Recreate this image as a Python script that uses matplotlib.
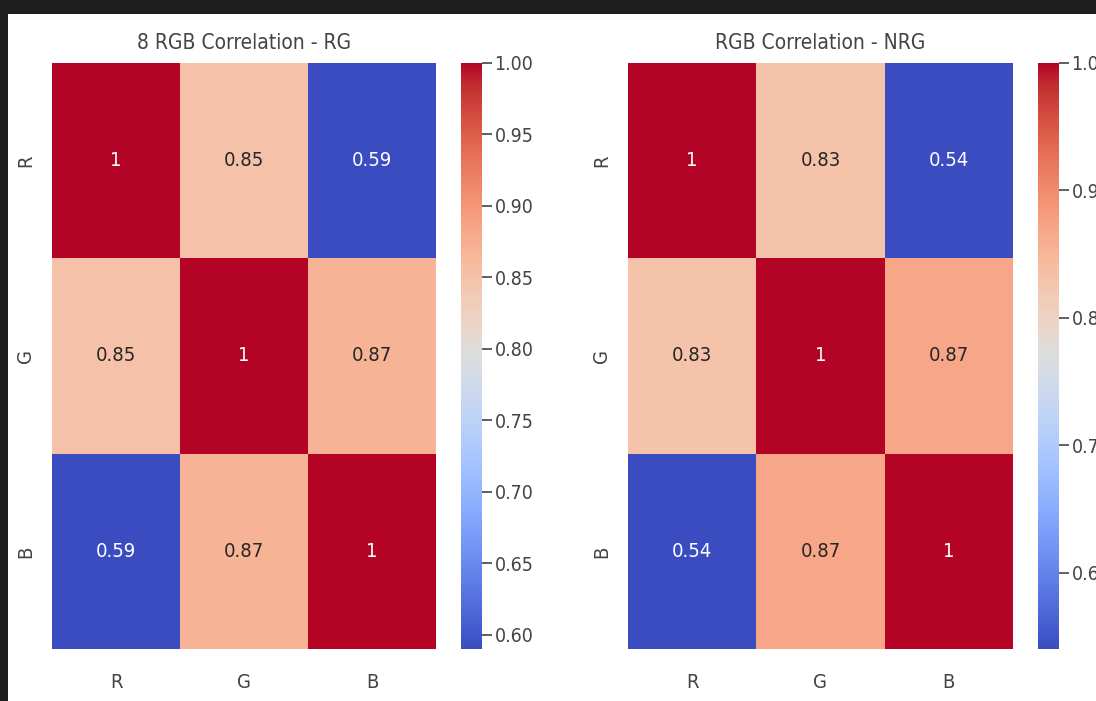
import matplotlib
matplotlib.use("Agg")
import matplotlib.pyplot as plt
import seaborn as sns
import numpy as np
from matplotlib.patches import Rectangle

# channel labels
channels = ["R", "G", "B"]

# correlation values
corr_rg = [[1.00, 0.85, 0.59],
           [0.85, 1.00, 0.87],
           [0.59, 0.87, 1.00]]
corr_nrg = [[1.00, 0.83, 0.54],
            [0.83, 1.00, 0.87],
            [0.54, 0.87, 1.00]]

titles = ["8 RGB Correlation - RG", "RGB Correlation - NRG"]

plt.rcParams['font.family'] = ['DejaVu Sans']
plt.rcParams['font.stretch'] = 'condensed'
text_col = '#444444'

W, H = 1096, 701
fig = plt.figure(figsize=(W / 100, H / 100), dpi=100)
fig.patch.set_facecolor('#1e1e1e')
# white page inside the dark screenshot frame
fig.patches.append(Rectangle((8 / W, 0), (W - 8) / W, (H - 14) / H,
                             transform=fig.transFigure, facecolor='white',
                             edgecolor='none', zorder=-10))

def px_box(x0, x1, y0, y1):
    return [x0 / W, (H - y1) / H, (x1 - x0) / W, (y1 - y0) / H]

layout = [
    (px_box(52, 436, 63, 649), px_box(461, 482, 63, 649)),
    (px_box(628, 1013, 63, 649), px_box(1038, 1059, 63, 649)),
]

for (hm_box, cb_box), mat, title in zip(layout, [corr_rg, corr_nrg], titles):
    ax = fig.add_axes(hm_box)
    cax = fig.add_axes(cb_box)
    sns.heatmap(np.array(mat), annot=True, cmap='coolwarm', ax=ax, cbar_ax=cax,
                xticklabels=channels, yticklabels=channels,
                annot_kws={'size': 14.5})
    ax.set_title(title, fontsize=15, color=text_col, pad=10)
    ax.tick_params(axis='x', length=0, labelsize=14.5, labelcolor=text_col, pad=17)
    ax.tick_params(axis='y', length=0, labelsize=14.5, labelcolor=text_col, pad=12)
    ax.set_yticklabels(channels, rotation=90, va='center')
    cax.tick_params(labelsize=14, labelcolor=text_col, color=text_col,
                    length=7, width=1.2, pad=2)

fig.savefig("out.png", dpi=100, facecolor=fig.get_facecolor())
